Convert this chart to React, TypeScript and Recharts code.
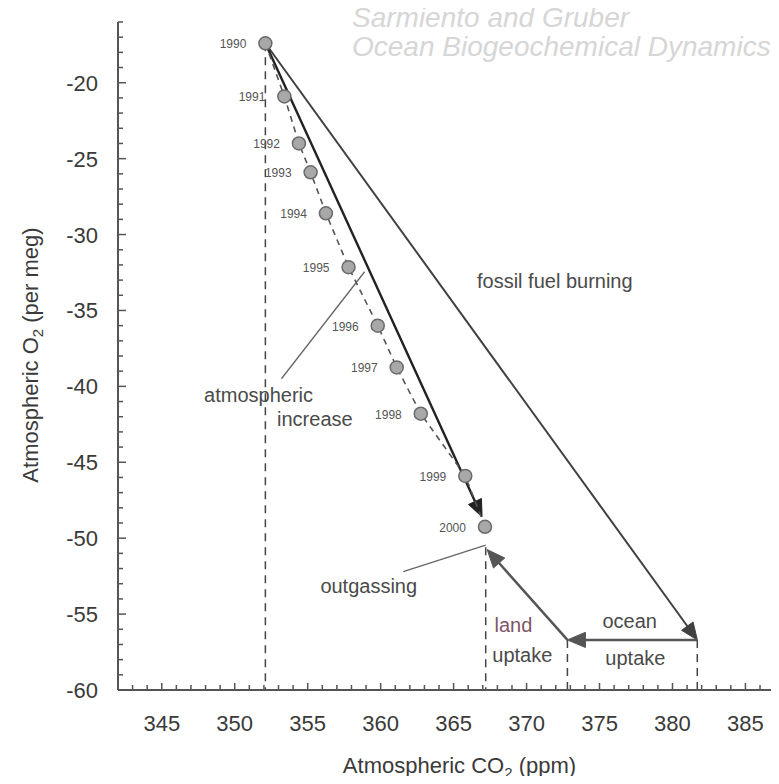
import React from 'react';
import { ComposedChart, Scatter, XAxis, YAxis, ReferenceLine, ReferenceDot } from 'recharts';

// ---- data ----
const years = [1990, 1991, 1992, 1993, 1994, 1995, 1996, 1997, 1998, 1999, 2000];
const co2 = [352.1, 353.4, 354.4, 355.2, 356.25, 357.8, 359.8, 361.1, 362.75, 365.8, 367.15];
const o2 = [-17.4, -20.9, -24.0, -25.9, -28.6, -32.15, -36.0, -38.75, -41.8, -45.9, -49.25];

const xTickLabels = [345, 350, 355, 360, 365, 370, 375, 380, 385];
const yTickLabels = [-20, -25, -30, -35, -40, -45, -50, -55, -60];
const xMinorTicks = [343, 344, 345, 346, 347, 348, 349, 350, 351, 352, 353, 354, 355, 356, 357, 358, 359, 360, 361, 362, 363, 364, 365, 366, 367, 368, 369, 370, 371, 372, 373, 374, 375, 376, 377, 378, 379, 380, 381, 382, 383, 384, 385, 386, 387];
const yMinorTicks = [-60, -59, -58, -57, -56, -55, -54, -53, -52, -51, -50, -49, -48, -47, -46, -45, -44, -43, -42, -41, -40, -39, -38, -37, -36, -35, -34, -33, -32, -31, -30, -29, -28, -27, -26, -25, -24, -23, -22, -21, -20, -19, -18, -17, -16];

const fossilFuel = [{ x: 352.1, y: -17.4 }, { x: 381.7, y: -56.7 }];
const oceanUptake = [{ x: 381.7, y: -56.7 }, { x: 372.8, y: -56.7 }];
const landUptake = [{ x: 372.8, y: -56.7 }, { x: 367.3, y: -50.75 }];
const atmosIncrease = [{ x: 352.1, y: -17.4 }, { x: 366.95, y: -48.6 }];

const dropX = [352.1, 367.2, 372.8, 381.7];
const dropTop = [-17.4, -50.6, -56.7, -56.7];

const leaderAtmos = [{ x: 353.2, y: -39.5 }, { x: 358.9, y: -32.45 }];
const leaderOut = [{ x: 361.55, y: -52.2 }, { x: 367.2, y: -50.45 }];

const noteText = ['fossil fuel burning', 'atmospheric', 'increase', 'outgassing', 'land', 'uptake', 'ocean', 'uptake'];
const noteX = [366.6, 347.9, 352.9, 362.5, 367.8, 367.65, 375.2, 375.4];
const noteY = [-33.5, -41.0, -42.6, -53.6, -56.2, -58.15, -55.9, -58.35];
const noteAnchor = ['start', 'start', 'start', 'end', 'start', 'start', 'start', 'start'];
const noteColor = ['#4a4a4a', '#4a4a4a', '#4a4a4a', '#4a4a4a', '#7d5566', '#4a4a4a', '#4a4a4a', '#4a4a4a'];

const points = years.map((yr, i) => ({ year: yr, co2: co2[i], o2: o2[i] }));

const FONT = '"Liberation Sans", Arial, Helvetica, sans-serif';

const XTick = (p: any) => {
  const { x, y, payload } = p;
  const v = payload.value;
  const major = xTickLabels.includes(v);
  return (
    <g>
      <line x1={x} x2={x} y1={y} y2={y - (major ? 7 : 5)} stroke="#555" strokeWidth={1.5} />
      {major && (
        <text x={x} y={y + 41} textAnchor="middle" fontSize={22} fill="#3a3a3a" fontFamily={FONT}>
          {v}
        </text>
      )}
    </g>
  );
};

const YTick = (p: any) => {
  const { x, y, payload } = p;
  const v = payload.value;
  const major = yTickLabels.includes(v);
  return (
    <g>
      <line x1={x} x2={x + (major ? 8 : 5)} y1={y} y2={y} stroke="#555" strokeWidth={1.5} />
      {major && (
        <text x={x - 20} y={y + 8} textAnchor="end" fontSize={22} fill="#3a3a3a" fontFamily={FONT}>
          {v}
        </text>
      )}
    </g>
  );
};

const arrowShape = (color: string, width: number, head: number) => (p: any) => {
  const x1 = Number(p.x1), y1 = Number(p.y1), x2 = Number(p.x2), y2 = Number(p.y2);
  const dx = x2 - x1, dy = y2 - y1;
  const L = Math.hypot(dx, dy) || 1;
  const ux = dx / L, uy = dy / L;
  const bx = x2 - ux * head, by = y2 - uy * head;
  const hw = head * 0.42;
  const pts = `${x2},${y2} ${bx - uy * hw},${by + ux * hw} ${bx + uy * hw},${by - ux * hw}`;
  return (
    <g>
      <line x1={x1} y1={y1} x2={bx + ux * 2} y2={by + uy * 2} stroke={color} strokeWidth={width} />
      <polygon points={pts} fill={color} stroke={color} strokeWidth={1} strokeLinejoin="miter" />
    </g>
  );
};

const PointShape = (p: any) => {
  const { cx, cy, payload } = p;
  return (
    <g>
      <circle cx={cx} cy={cy} r={6.5} fill="#a8a8a8" stroke="#6a6a6a" strokeWidth={1.5} />
      <text x={cx - 19} y={cy + 5} textAnchor="end" fontSize={12} fill="#555" fontFamily={FONT}>
        {payload.year}
      </text>
    </g>
  );
};

export default function App() {
  return (
    <div style={{ position: 'relative', width: 779, height: 784, margin: -8, background: '#fff' }}>
      <ComposedChart width={779} height={784} margin={{ top: 22, right: 0, bottom: 34, left: 0 }}>
        <XAxis
          type="number"
          dataKey="co2"
          domain={[342, 387.3]}
          ticks={xMinorTicks}
          interval={0}
          tickSize={0}
          tickMargin={0}
          tickLine={false}
          axisLine={{ stroke: '#555', strokeWidth: 2 }}
          height={60}
          allowDataOverflow
          tick={(p: any) => <XTick {...p} />}
          label={{
            content: (lp: any) => {
              const vb = lp.viewBox || { x: 118, y: 690, width: 661 };
              return (
                <text x={vb.x + vb.width / 2 + 11} y={vb.y + 83} textAnchor="middle" fontSize={22} fill="#3a3a3a" fontFamily={FONT}>
                  Atmospheric CO
                  <tspan fontSize={15} dy={5}>2</tspan>
                  <tspan dy={-5}> (ppm)</tspan>
                </text>
              );
            },
          }}
        />
        <YAxis
          type="number"
          dataKey="o2"
          domain={[-60, -16]}
          ticks={yMinorTicks}
          interval={0}
          tickSize={0}
          tickMargin={0}
          tickLine={false}
          axisLine={{ stroke: '#555', strokeWidth: 2 }}
          width={118}
          allowDataOverflow
          tick={(p: any) => <YTick {...p} />}
          label={{
            content: (lp: any) => {
              const vb = lp.viewBox || { x: 0, y: 22, width: 118, height: 668 };
              const cx = 38;
              const cy = vb.y + vb.height / 2 - 1;
              return (
                <text x={cx} y={cy} transform={`rotate(-90, ${cx}, ${cy})`} textAnchor="middle" fontSize={22} fill="#3a3a3a" fontFamily={FONT}>
                  Atmospheric O
                  <tspan fontSize={15} dy={5}>2</tspan>
                  <tspan dy={-5}> (per meg)</tspan>
                </text>
              );
            },
          }}
        />

        {dropX.map((x, i) => (
          <ReferenceLine
            key={'drop' + i}
            segment={[{ x, y: dropTop[i] }, { x, y: -60 }]}
            stroke="#444"
            strokeWidth={1.5}
            strokeDasharray="8 6"
            ifOverflow="visible"
          />
        ))}

        <ReferenceLine segment={leaderAtmos} stroke="#666" strokeWidth={1.3} ifOverflow="visible" />
        <ReferenceLine segment={leaderOut} stroke="#666" strokeWidth={1.3} ifOverflow="visible" />

        <ReferenceLine segment={fossilFuel} ifOverflow="visible" shape={arrowShape('#404040', 2, 17)} />
        <ReferenceLine segment={oceanUptake} ifOverflow="visible" shape={arrowShape('#555', 2.5, 18)} />
        <ReferenceLine segment={landUptake} ifOverflow="visible" shape={arrowShape('#555', 2.5, 18)} />

        <Scatter
          data={points}
          dataKey="o2"
          isAnimationActive={false}
          line={{ stroke: '#555', strokeWidth: 1.6, strokeDasharray: '6 5' }}
          lineType="joint"
          shape={(p: any) => <PointShape {...p} />}
        />

        <ReferenceLine segment={atmosIncrease} ifOverflow="visible" shape={arrowShape('#222', 2.4, 17)} />

        {noteText.map((t, i) => (
          <ReferenceDot
            key={'note' + i}
            x={noteX[i]}
            y={noteY[i]}
            ifOverflow="visible"
            shape={(p: any) => (
              <text x={p.cx} y={p.cy} textAnchor={noteAnchor[i] as any} fontSize={20} fill={noteColor[i]} fontFamily={FONT}>
                {t}
              </text>
            )}
          />
        ))}
      </ComposedChart>
      <svg width={779} height={70} style={{ position: 'absolute', left: 0, top: 0, pointerEvents: 'none' }}>
        <text x={352} y={27} fontSize={28} fontStyle="italic" fill="#d6d6d6" fontFamily={FONT}>
          Sarmiento and Gruber
        </text>
        <text x={352} y={56} fontSize={28} fontStyle="italic" fill="#d6d6d6" fontFamily={FONT}>
          Ocean Biogeochemical Dynamics
        </text>
      </svg>
    </div>
  );
}
